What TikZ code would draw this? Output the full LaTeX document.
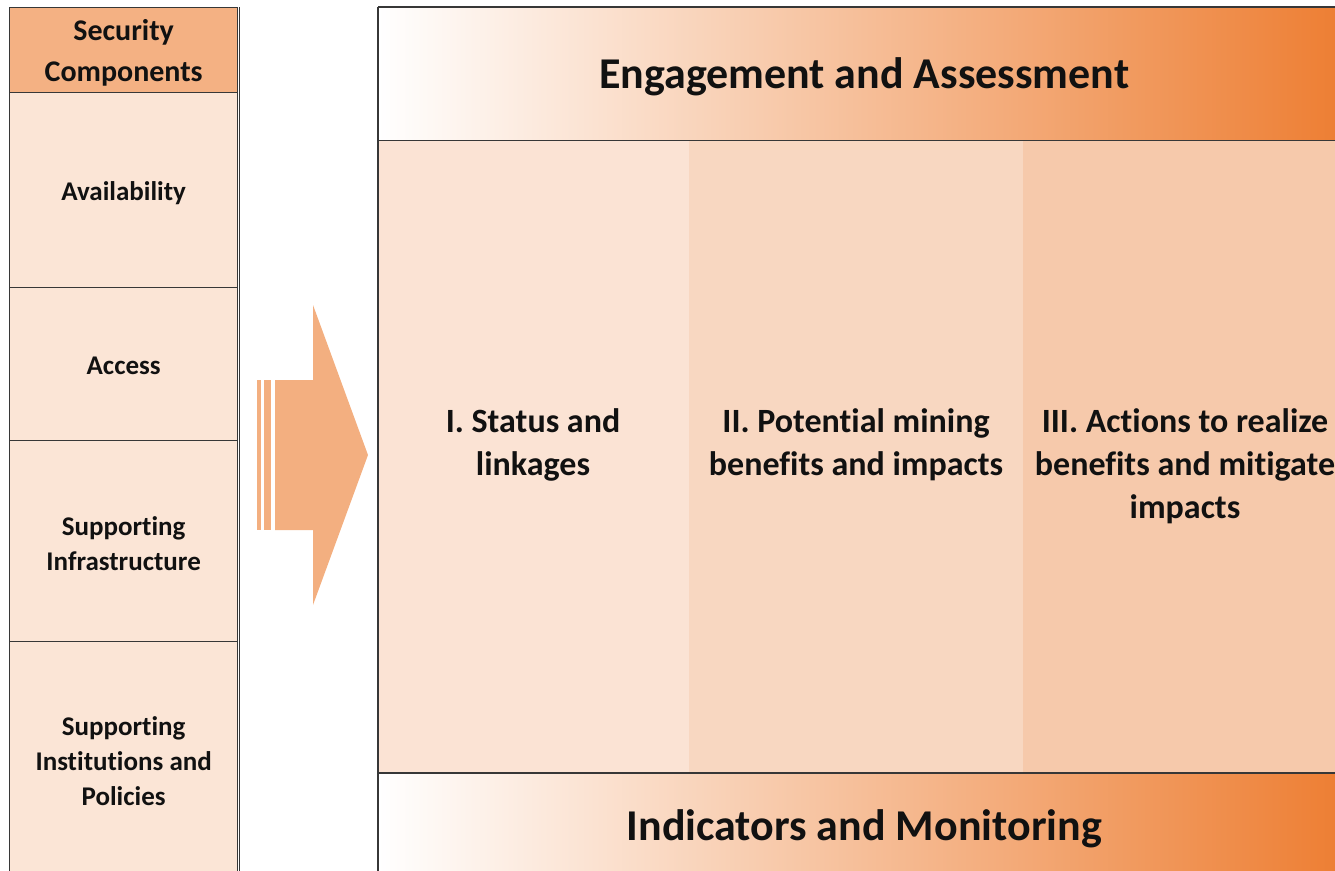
\documentclass[tikz,border=0pt]{standalone}
\usepackage{fontspec}
\setmainfont{Carlito}[Ligatures={CommonOff,ContextualOff,RareOff}]
\definecolor{linegray}{RGB}{55,55,55}
\definecolor{headpeach}{RGB}{244,177,131}
\definecolor{cellpeach}{RGB}{251,229,214}
\definecolor{arrowpeach}{RGB}{243,175,128}
\definecolor{colone}{RGB}{251,227,212}
\definecolor{coltwo}{RGB}{248,215,193}
\definecolor{colthree}{RGB}{246,201,171}
\definecolor{accorange}{RGB}{237,125,49}
\definecolor{inkblack}{RGB}{17,17,17}
\begin{document}
\begin{tikzpicture}[x=1pt,y=-1pt,
  cellbox/.style={rectangle, inner sep=0pt, anchor=north west,
    draw=linegray, line width=1.3pt},
  plainbox/.style={rectangle, inner sep=0pt, anchor=north west, draw=none},
  label/.style={align=center, inner sep=0pt, text=inkblack},
  rule/.style={draw=linegray, line width=1.4pt},
  headfont/.style={font=\fontsize{30}{41}\selectfont\bfseries},
  rowfont/.style={font=\fontsize{27}{35}\selectfont\bfseries},
  bandfont/.style={font=\fontsize{44}{52}\selectfont\bfseries},
  colfont/.style={font=\fontsize{34}{43}\selectfont\bfseries},
  bandshade/.style={left color=white, right color=accorange},
]
\useasboundingbox (0,0) rectangle (1335,870);
\clip (0,0) rectangle (1335,870);

% ---- security components column ----
\node[cellbox, fill=headpeach, minimum width=228pt, minimum height=85pt]
  (sechead) at (9,7) {};
\node[cellbox, fill=cellpeach, minimum width=228pt, minimum height=195pt]
  (avail) at (9,92) {};
\node[cellbox, fill=cellpeach, minimum width=228pt, minimum height=153pt]
  (access) at (9,287) {};
\node[cellbox, fill=cellpeach, minimum width=228pt, minimum height=201pt]
  (infra) at (9,440) {};
\node[cellbox, fill=cellpeach, minimum width=228pt, minimum height=234pt]
  (inst) at (9,641) {};
% second line of the double rule on the right
\coordinate (dbltop) at (239.6,7);
\coordinate (dblbot) at (239.6,880);
\draw[draw=linegray, line width=1.1pt] (dbltop) -- (dblbot);

\node[label, headfont, yshift=-3pt] (secheadtxt) at (sechead.center) {Security\\Components};
\node[label, rowfont, yshift=-3pt] (availtxt) at (avail.center) {Availability};
\node[label, rowfont, yshift=-2pt] (accesstxt) at (access.center) {Access};
\node[label, rowfont, yshift=-2pt] (infratxt) at (infra.center) {Supporting\\Infrastructure};
\node[label, rowfont, yshift=-2pt] (insttxt) at (inst.center) {Supporting\\Institutions and\\Policies};

% ---- block arrow ----
\fill[arrowpeach] (275,380) -- (313,380) -- (313,305) -- (368,455)
  -- (313,605) -- (313,530) -- (275,530) -- cycle;
\fill[arrowpeach] (257.3,380) rectangle (260.7,530);
\fill[arrowpeach] (264.3,380) rectangle (271.3,530);

% ---- framework panel ----
\node[plainbox, bandshade, minimum width=972pt, minimum height=133pt]
  (engage) at (378,7) {};
\node[plainbox, fill=colone, minimum width=311pt, minimum height=633pt]
  (colI) at (378,140) {};
\node[plainbox, fill=coltwo, minimum width=334pt, minimum height=633pt]
  (colII) at (689,140) {};
\node[plainbox, fill=colthree, minimum width=327pt, minimum height=633pt]
  (colIII) at (1023,140) {};
\node[plainbox, bandshade, minimum width=972pt, minimum height=107pt]
  (indic) at (378,773) {};

\draw[rule] (engage.north west) -- (engage.north east);
\draw[rule] (engage.south west) -- (engage.south east);
\draw[rule] (indic.north west) -- (indic.north east);
\draw[rule] (engage.north west) -- (indic.south west);

\node[label, bandfont, yshift=-3pt] (engagetxt) at (engage.center) {Engagement and Assessment};
\node[label, bandfont, yshift=-2pt] (indictxt) at (indic.center) {Indicators and Monitoring};

% ---- column labels ----
\node[label, colfont, anchor=north] (lblI) at (533,408)
  {I. Status and\\linkages};
\node[label, colfont, anchor=north] (lblII) at (856,408)
  {II. Potential mining\\benefits and impacts};
\node[label, colfont, anchor=north] (lblIII) at (1185,408)
  {III. Actions to realize\\benefits and mitigate\\impacts};
\end{tikzpicture}
\end{document}
